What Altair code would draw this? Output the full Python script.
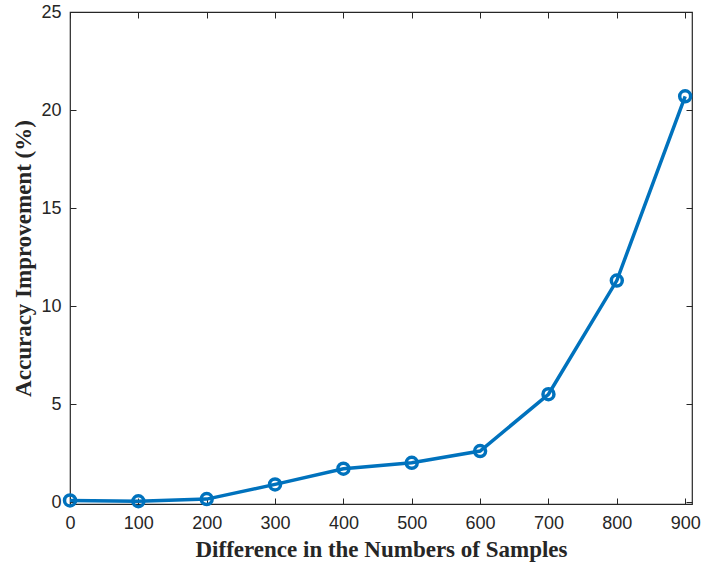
import altair as alt
import pandas as pd

samples = [0, 100, 200, 300, 400, 500, 600, 700, 800, 900]
improvement = [0.08, 0.04, 0.15, 0.9, 1.7, 2.0, 2.6, 5.5, 11.3, 20.7]
x_ticks = [0, 100, 200, 300, 400, 500, 600, 700, 800, 900]
y_ticks = [0, 5, 10, 15, 20, 25]

df = pd.DataFrame({"samples": samples, "improvement": improvement})

BLUE = "#0072BD"
DARK = "#262626"

xscale = alt.Scale(domain=[0, 910], nice=False, zero=False)
yscale = alt.Scale(domain=[-0.1, 25], nice=False, zero=False)

base = alt.Chart(df)

main = base.mark_line(
    color=BLUE, strokeWidth=3.5,
    point=alt.OverlayMarkDef(filled=False, color=BLUE, size=120, strokeWidth=3.5),
).encode(
    x=alt.X("samples:Q", scale=xscale,
            axis=alt.Axis(orient="bottom", values=x_ticks, offset=-6, tickSize=6,
                          domain=False, grid=False, tickColor=DARK, labelColor=DARK,
                          labelFont="Liberation Sans", labelFontSize=18, labelPadding=10,
                          labelFlush=False,
                          title="Difference in the Numbers of Samples",
                          titleFont="Liberation Serif", titleFontSize=23, titleFontWeight="bold",
                          titleColor=DARK, titlePadding=6)),
    y=alt.Y("improvement:Q", scale=yscale,
            axis=alt.Axis(orient="left", values=y_ticks, offset=-6, tickSize=6,
                          domain=False, grid=False, tickColor=DARK, labelColor=DARK,
                          labelFont="Liberation Sans", labelFontSize=18, labelPadding=9,
                          labelFlush=False,
                          title="Accuracy Improvement (%)",
                          titleFont="Liberation Serif", titleFontSize=23, titleFontWeight="bold",
                          titleColor=DARK, titlePadding=5)),
)

ghost = base.mark_point(opacity=0).encode(
    x=alt.X("samples:Q", scale=xscale,
            axis=alt.Axis(orient="top", values=x_ticks, offset=-6, tickSize=6,
                          domain=False, grid=False, labels=False, tickColor=DARK, title=None)),
    y=alt.Y("improvement:Q", scale=yscale,
            axis=alt.Axis(orient="right", values=y_ticks, offset=-6, tickSize=6,
                          domain=False, grid=False, labels=False, tickColor=DARK, title=None)),
)

chart = alt.layer(ghost, main).resolve_axis(x="independent", y="independent").properties(
    width=622, height=492,
    padding={"left": 70, "top": 12, "right": 9, "bottom": 65},
    autosize=alt.AutoSizeParams(type="none"),
    background="white",
).configure_view(stroke=DARK, strokeWidth=1.2)

chart.save("out.html", embed_options={"renderer": "svg", "actions": False})
